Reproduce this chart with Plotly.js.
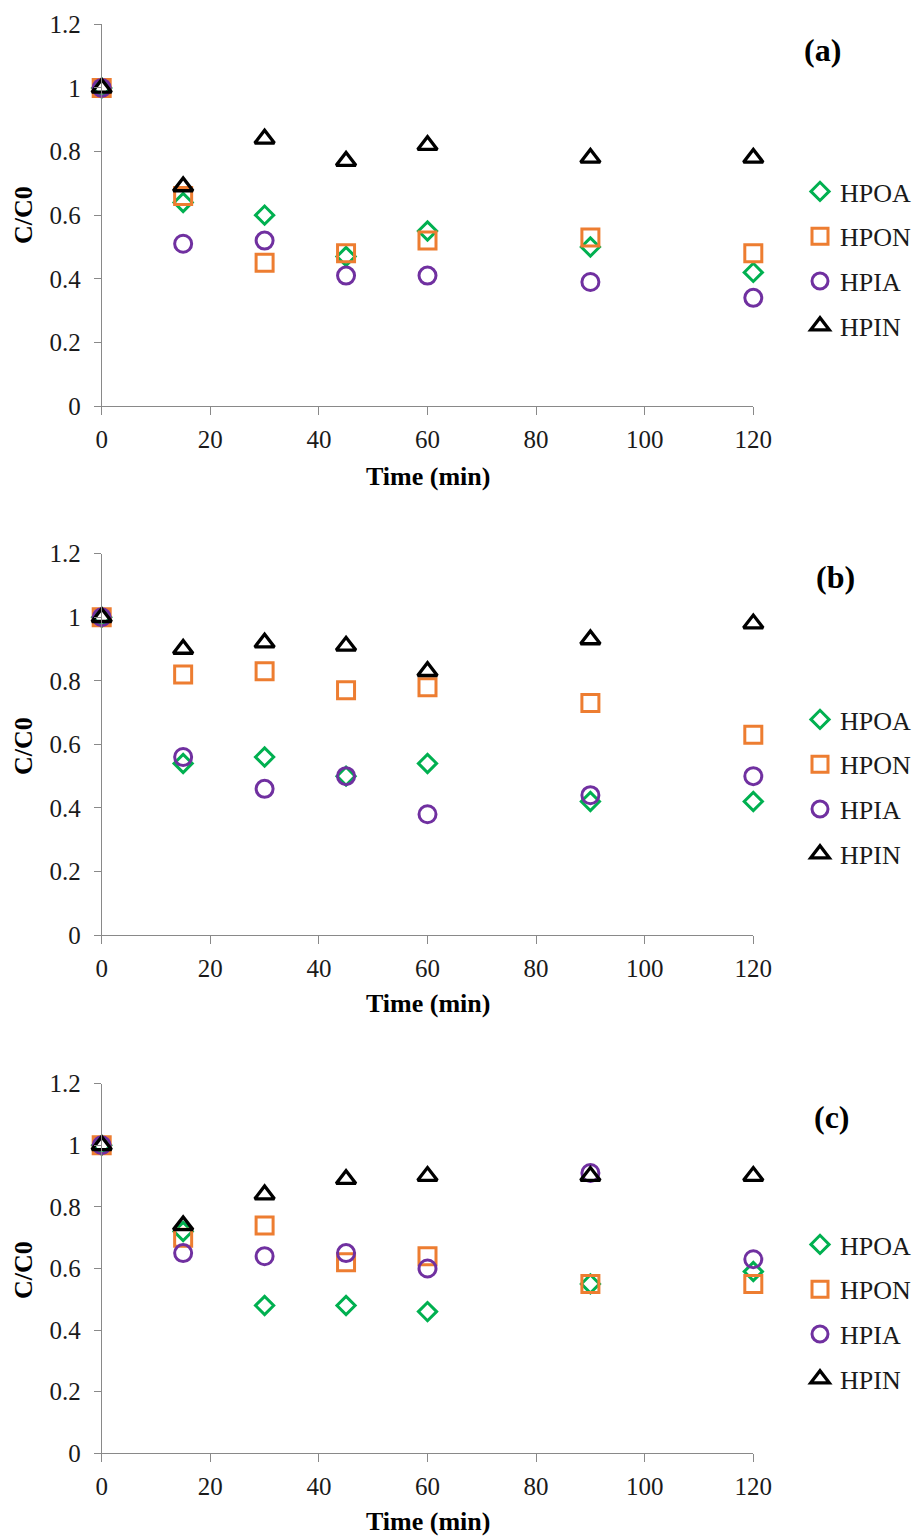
<!DOCTYPE html>
<html>
<head>
<meta charset="utf-8">
<script src="https://cdn.plot.ly/plotly-3.0.1.min.js"></script>
<style>html,body{margin:0;padding:0;background:#fff;}#chart{width:912px;height:1537px;}</style>
</head>
<body>
<div id="chart"></div>
<script>
// ---- data ----
var time = [0, 15, 30, 45, 60, 90, 120];
var seriesNames = ["HPOA", "HPON", "HPIA", "HPIN"];
var panelLabels = ["(a)", "(b)", "(c)"];

var a_HPOA = [1, 0.64, 0.60, 0.47, 0.55, 0.50, 0.42];
var a_HPON = [1, 0.66, 0.45, 0.48, 0.52, 0.53, 0.48];
var a_HPIA = [1, 0.51, 0.52, 0.41, 0.41, 0.39, 0.34];
var a_HPIN = [1, 0.69, 0.84, 0.77, 0.82, 0.78, 0.78];

var b_HPOA = [1, 0.54, 0.56, 0.50, 0.54, 0.42, 0.42];
var b_HPON = [1, 0.82, 0.83, 0.77, 0.78, 0.73, 0.63];
var b_HPIA = [1, 0.56, 0.46, 0.50, 0.38, 0.44, 0.50];
var b_HPIN = [1, 0.90, 0.92, 0.91, 0.83, 0.93, 0.98];

var c_HPOA = [1, 0.72, 0.48, 0.48, 0.46, 0.55, 0.59];
var c_HPON = [1, 0.70, 0.74, 0.62, 0.64, 0.55, 0.55];
var c_HPIA = [1, 0.65, 0.64, 0.65, 0.60, 0.91, 0.63];
var c_HPIN = [1, 0.74, 0.84, 0.89, 0.90, 0.90, 0.90];

var xTitle = "Time (min)";
var yTitle = "C/C0";

// ---- styling ----
var FONT = "Liberation Serif";
var styles = [
  {symbol: "diamond-open", color: "#00B050", size: 14, lw: 3},
  {symbol: "square-open", color: "#ED7D31", size: 17, lw: 3},
  {symbol: "circle-open", color: "#7030A0", size: 17, lw: 3},
  {symbol: "triangle-up-open", color: "#000000", size: 17, lw: 3.3}
];
var panels = [
  [a_HPOA, a_HPON, a_HPIA, a_HPIN],
  [b_HPOA, b_HPON, b_HPIA, b_HPIN],
  [c_HPOA, c_HPON, c_HPIA, c_HPIN]
];
var H = 1537, W = 912;
// plot area pixel boxes [top, bottom]
var boxes = [[24.3, 406], [553.7, 935], [1083.7, 1453.3]];
var xl = 101.7, xr = 753.3;
var legendTops = [168, 696, 1221];
var labelPos = [[822.7, 50], [835, 576.7], [831.7, 1116.7]];
var xTitleY = [477, 1003.3, 1521.7];
var yTitleY = [215, 746, 1270];

var data = [];
var layout = {
  width: W, height: H,
  margin: {l: 0, r: 0, t: 0, b: 0, autoexpand: false},
  paper_bgcolor: "#fff", plot_bgcolor: "#fff",
  font: {family: FONT, color: "#1a1a1a"},
  showlegend: true,
  annotations: []
};

panels.forEach(function (series, p) {
  var sfx = p === 0 ? "" : String(p + 1);
  var legName = "legend" + sfx;
  series.forEach(function (vals, i) {
    var st = styles[i];
    data.push({
      type: "scatter", mode: "markers",
      x: time, y: vals, name: seriesNames[i],
      xaxis: "x" + sfx, yaxis: "y" + sfx,
      legend: legName, legendgroup: "g" + p + "_" + i,
      cliponaxis: false,
      marker: {symbol: st.symbol, size: st.size, color: st.color,
               line: {color: st.color, width: st.lw}},
      hoverinfo: "x+y+name"
    });
  });
  var box = boxes[p];
  layout["xaxis" + sfx] = {
    domain: [xl / W, xr / W], anchor: "y" + sfx,
    range: [0, 120], dtick: 20, tick0: 0,
    showline: true, linecolor: "#898989", linewidth: 1,
    ticks: "outside", ticklen: 8, tickcolor: "#898989", tickwidth: 1,
    showgrid: false, zeroline: false,
    ticklabelstandoff: 3,
    tickfont: {family: FONT, size: 25, color: "#1a1a1a"}
  };
  layout["yaxis" + sfx] = {
    domain: [1 - box[1] / H, 1 - box[0] / H], anchor: "x" + sfx,
    range: [0, 1.2], dtick: 0.2, tick0: 0,
    showline: true, linecolor: "#898989", linewidth: 1,
    ticks: "outside", ticklen: 7, tickcolor: "#898989", tickwidth: 1,
    showgrid: false, zeroline: false,
    ticklabelstandoff: 8,
    tickfont: {family: FONT, size: 25, color: "#1a1a1a"}
  };
  layout[legName] = {
    x: 800 / W, xanchor: "left",
    y: 1 - legendTops[p] / H, yanchor: "top",
    font: {family: FONT, size: 26, color: "#1a1a1a"},
    bgcolor: "rgba(0,0,0,0)", borderwidth: 0,
    traceorder: "grouped", tracegroupgap: 8
  };
  layout.annotations.push({
    text: "<b>" + xTitle + "</b>", xref: "paper", yref: "paper",
    x: ((xl + xr) / 2) / W, y: 1 - xTitleY[p] / H,
    xanchor: "center", yanchor: "middle", showarrow: false,
    font: {family: FONT, size: 26, color: "#000"}
  });
  layout.annotations.push({
    text: "<b>" + yTitle + "</b>", xref: "paper", yref: "paper",
    x: 23 / W, y: 1 - yTitleY[p] / H, textangle: -90,
    xanchor: "center", yanchor: "middle", showarrow: false,
    font: {family: FONT, size: 26, color: "#000"}
  });
  layout.annotations.push({
    text: "<b>" + panelLabels[p] + "</b>", xref: "paper", yref: "paper",
    x: labelPos[p][0] / W, y: 1 - labelPos[p][1] / H,
    xanchor: "center", yanchor: "middle", showarrow: false,
    font: {family: FONT, size: 32, color: "#000"}
  });
});

Plotly.newPlot("chart", data, layout, {displayModeBar: false});
</script>
</body>
</html>
